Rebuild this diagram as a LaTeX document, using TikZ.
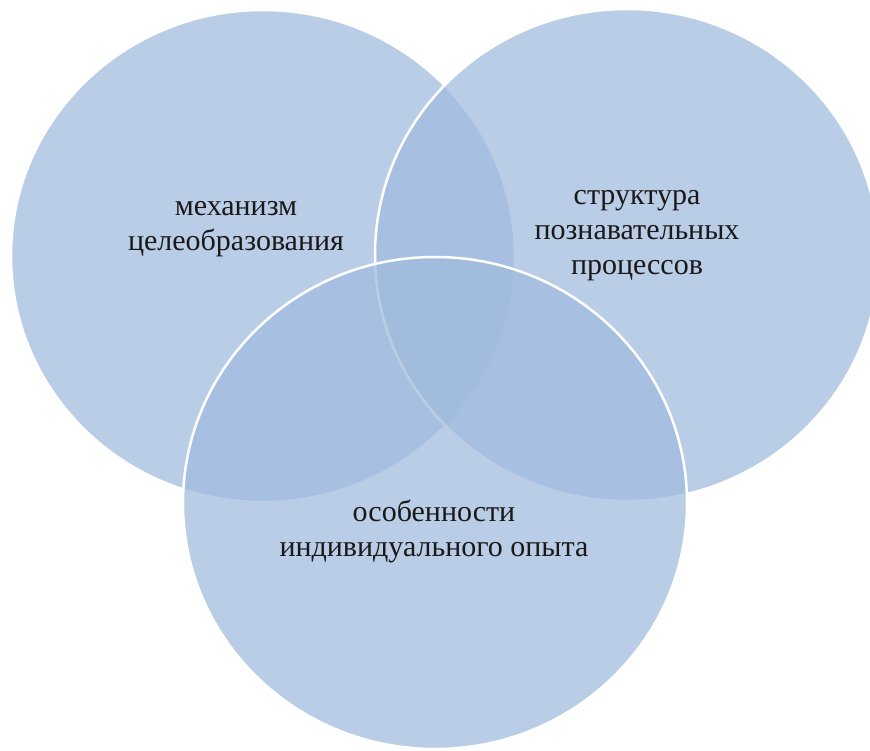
\documentclass[tikz,border=0pt]{standalone}
\usepackage{fontspec}
\setmainfont{Liberation Serif}
\usetikzlibrary{positioning}
\definecolor{vennblue}{RGB}{160,186,221}

\begin{document}
\begin{tikzpicture}[x=1pt, y=-1pt,
  venn/.style={draw=white, line width=2.5pt, fill=vennblue, fill opacity=0.72},
  txt/.style={align=center, text=black!90, font=\fontsize{30}{35}\selectfont}]
  \useasboundingbox (0,0) rectangle (870,751);
  \clip (0,0) rectangle (870,751);
  % three circles
  \draw [venn] (263,256) ellipse [x radius=252, y radius=246];
  \draw [venn] (627,255) ellipse [x radius=252, y radius=246];
  \draw [venn] (435,503) ellipse [x radius=252, y radius=246];
  % labels
  \node (goal) at (236,229) [txt] {механизм\\целеобразования};
  \node (cogn) at (637,236) [txt] {структура\\познавательных\\процессов};
  \node (exp) at (434,531) [txt] {особенности\\индивидуального опыта};
\end{tikzpicture}
\end{document}
